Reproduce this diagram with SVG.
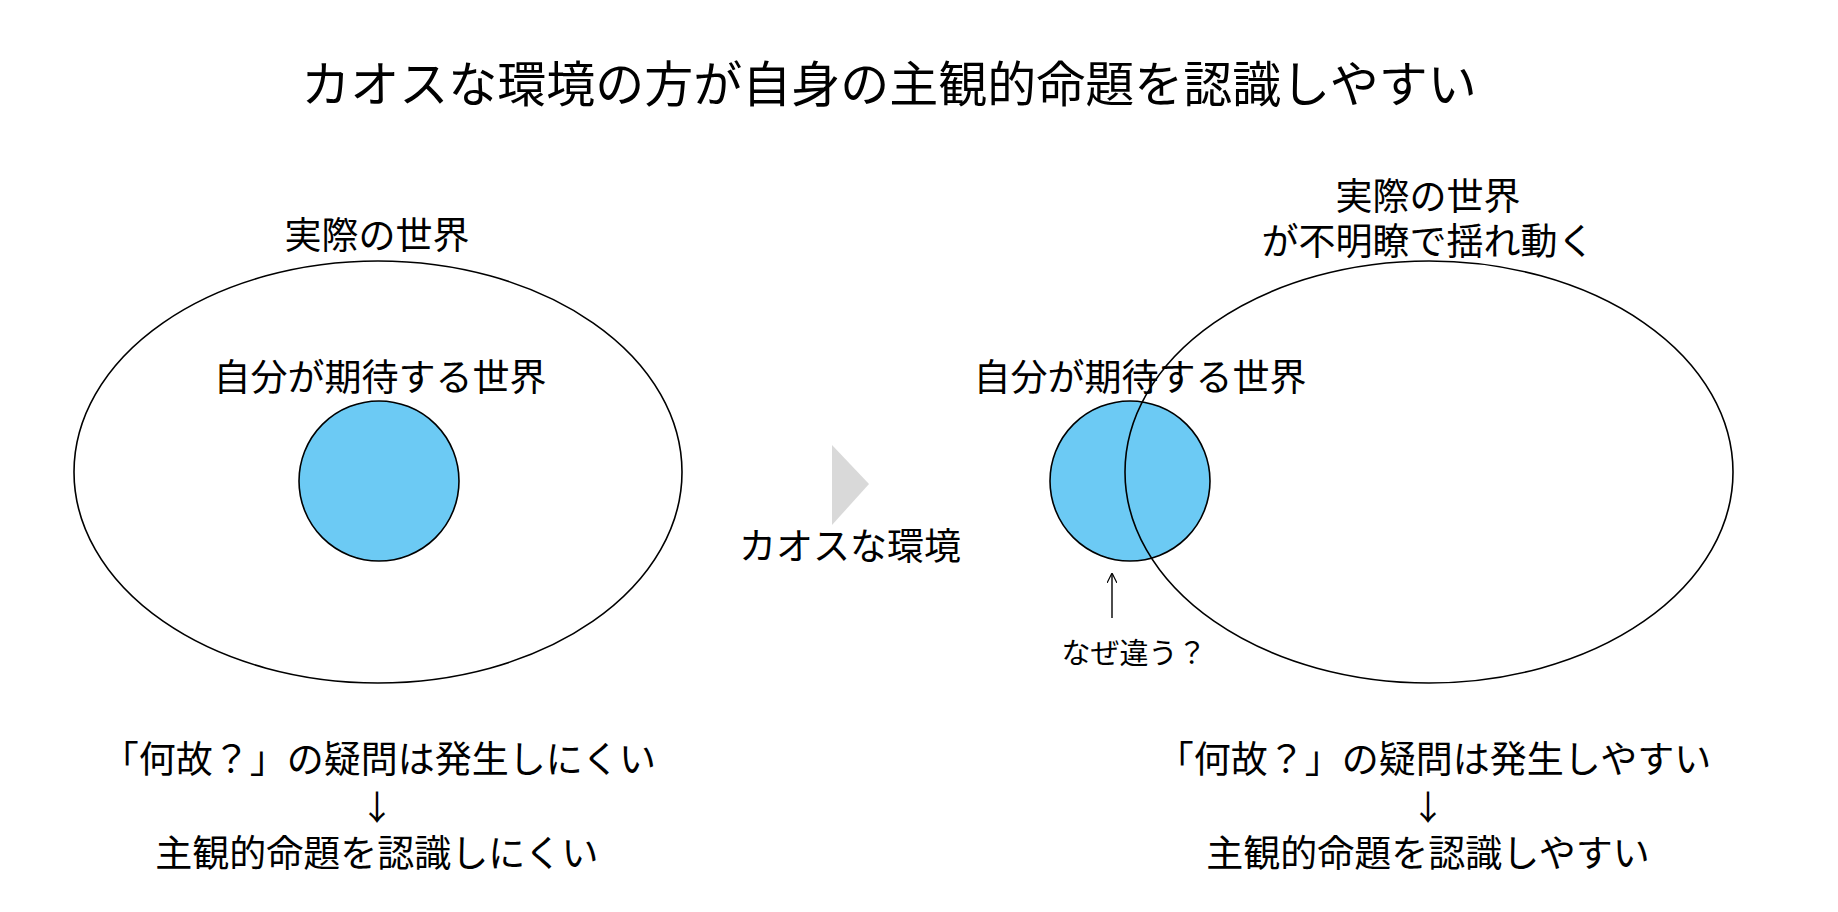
<svg xmlns="http://www.w3.org/2000/svg" width="1838" height="912" viewBox="0 0 1838 912">
<style>
text{font-family:"Noto Sans CJK JP","Noto Sans",sans-serif;fill:#000;text-anchor:middle;dominant-baseline:central}
.t{font-size:49px}.m{font-size:37px}.s{font-size:29px}.r{font-size:34px}
.o{fill:none;stroke:#000;stroke-width:1.6}
.c{fill:#6ccaf4;stroke:#000;stroke-width:1.6}
</style>
<defs><marker id="a" viewBox="0 0 10 10" refX="9" refY="5" markerWidth="10" markerHeight="10" orient="auto" markerUnits="userSpaceOnUse"><path d="M0,0L10,5L0,10" fill="none" stroke="#000" stroke-width="1.2"/></marker></defs>
<rect width="1838" height="912" fill="#fff"/>
<text class="t" x="889" y="80">カオスな環境の方が自身の主観的命題を認識しやすい</text>
<g id="left-world"><ellipse class="o" cx="378" cy="472" rx="304" ry="211"/><text class="m" x="377" y="233">実際の世界</text></g>
<g id="left-expect"><circle class="c" cx="379" cy="481" r="80"/><text class="m" x="380" y="375">自分が期待する世界</text></g>
<g id="chaos"><polygon points="832,445 869,484 832,525" fill="#d9d9d9"/><text class="m" x="850" y="544">カオスな環境</text></g>
<g id="right-expect"><circle class="c" cx="1130" cy="481" r="80"/><text class="m" x="1140" y="375">自分が期待する世界</text></g>
<g id="right-world"><ellipse class="o" cx="1429" cy="472" rx="304" ry="211"/><text class="m" x="1428" y="194">実際の世界</text><text class="m" x="1428" y="239">が不明瞭で揺れ動く</text></g>
<g id="connectors"><line x1="1112" y1="618" x2="1112" y2="574" stroke="#000" stroke-width="1.4" marker-end="url(#a)"/></g>
<g id="why"><text class="s" x="1134" y="651">なぜ違う？</text></g>
<g id="left-bottom"><text class="m" x="379" y="757">「何故？」の疑問は発生しにくい</text><text class="r" x="377" y="805">↓</text><text class="m" x="377" y="851">主観的命題を認識しにくい</text></g>
<g id="right-bottom"><text class="m" x="1434" y="757">「何故？」の疑問は発生しやすい</text><text class="r" x="1428" y="805">↓</text><text class="m" x="1428" y="851">主観的命題を認識しやすい</text></g>
</svg>
